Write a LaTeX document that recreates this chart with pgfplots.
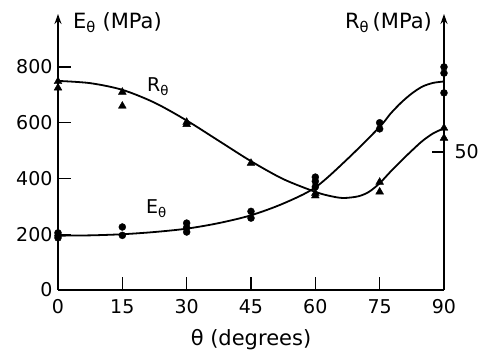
\documentclass[border=0pt]{standalone}
\usepackage{pgfplots}
\pgfplotsset{compat=1.18}
\usepackage{fontspec}
\setmainfont{DejaVu Sans}
\usetikzlibrary{arrows.meta}
\begin{document}
\begin{tikzpicture}
\begin{axis}[
  at={(0,0)}, anchor=south west,
  scale only axis, width=386pt, height=276pt,
  xmin=0, xmax=90, ymin=0, ymax=990,
  enlargelimits=false,
  axis x line=bottom, axis y line=left,
  x axis line style={-, line width=1.6pt},
  y axis line style={-{Stealth[length=10pt,width=7pt]}, line width=1.6pt},
  xtick={0,15,30,45,60,75,90},
  ytick={0,200,400,600,800},
  tick align=inside,
  major tick length=13pt,
  every tick/.style={line width=1.3pt, black},
  /pgf/number format/assume math mode=true,
  tick label style={font=\fontsize{19}{22}\selectfont},
  xticklabel style={yshift=-6pt},
  yticklabel style={xshift=-2pt},
  clip=false,
]
% R_theta smooth curve (left-axis units)
\addplot[black, line width=1.8pt, smooth] coordinates {
(0,750) (7.5,742) (15,718) (22.5,672) (30,608) (37.5,535) (45,462) (52.5,398) (60,352) (63.5,337) (66.5,330) (70,336) (72.5,352) (75,383) (77.5,424) (80,463) (82.5,500) (85,535) (87.5,562) (90,580)};
% E_theta smooth curve
\addplot[black, line width=1.8pt, smooth] coordinates {
(0,195) (7.5,196) (15,200) (22.5,208) (30,220) (37.5,240) (45,268) (52.5,310) (60,368) (67.5,470) (75,585) (77.5,632) (80,672) (82.5,705) (85,730) (87.5,743) (90,748)};
% R_theta data (triangles)
\addplot[only marks, mark=triangle*, mark size=4.5pt, black] coordinates {
(0,748) (0,725) (15,710) (15,660) (30,602) (30,594) (45,455) (60,347) (60,338) (75,387) (75,352) (90,581) (90,545)};
% E_theta data (circles)
\addplot[only marks, mark=*, mark size=3.5pt, black] coordinates {
(0,205) (0,195) (0,187) (15,226) (15,196) (30,240) (30,224) (30,208) (45,282) (45,258) (60,405) (60,390) (60,370) (75,600) (75,578) (90,800) (90,778) (90,707)};
\end{axis}
\begin{axis}[
  at={(0,0)}, anchor=south west,
  scale only axis, width=386pt, height=276pt,
  xmin=0, xmax=90, ymin=0, ymax=100,
  enlargelimits=false,
  axis x line=none, axis y line=right,
  y axis line style={-{Stealth[length=10pt,width=7pt]}, line width=1.6pt},
  ytick={50},
  tick align=inside,
  major tick length=12pt,
  every tick/.style={line width=1.3pt, black},
  /pgf/number format/assume math mode=true,
  tick label style={font=\fontsize{19}{22}\selectfont},
  yticklabel style={xshift=7pt},
]
\end{axis}
\node[anchor=west, font=\fontsize{21}{24}\selectfont, inner sep=0pt] at (15pt,267pt) {E\textsubscript{θ} (MPa)};
\node[anchor=east, font=\fontsize{21}{24}\selectfont, inner sep=0pt] at (374pt,267pt) {R\textsubscript{θ}\,(MPa)};
\node[anchor=west, font=\fontsize{19}{22}\selectfont, inner sep=0pt] at (89pt,203pt) {R\textsubscript{θ}};
\node[anchor=west, font=\fontsize{19}{22}\selectfont, inner sep=0pt] at (88pt,81pt) {E\textsubscript{θ}};
\node[font=\fontsize{21}{24}\selectfont, inner sep=0pt] at (193pt,-50pt) {θ (degrees)};
\pgfresetboundingbox
\path (-58pt,-68pt) rectangle (423pt,290pt);
\end{tikzpicture}
\end{document}
